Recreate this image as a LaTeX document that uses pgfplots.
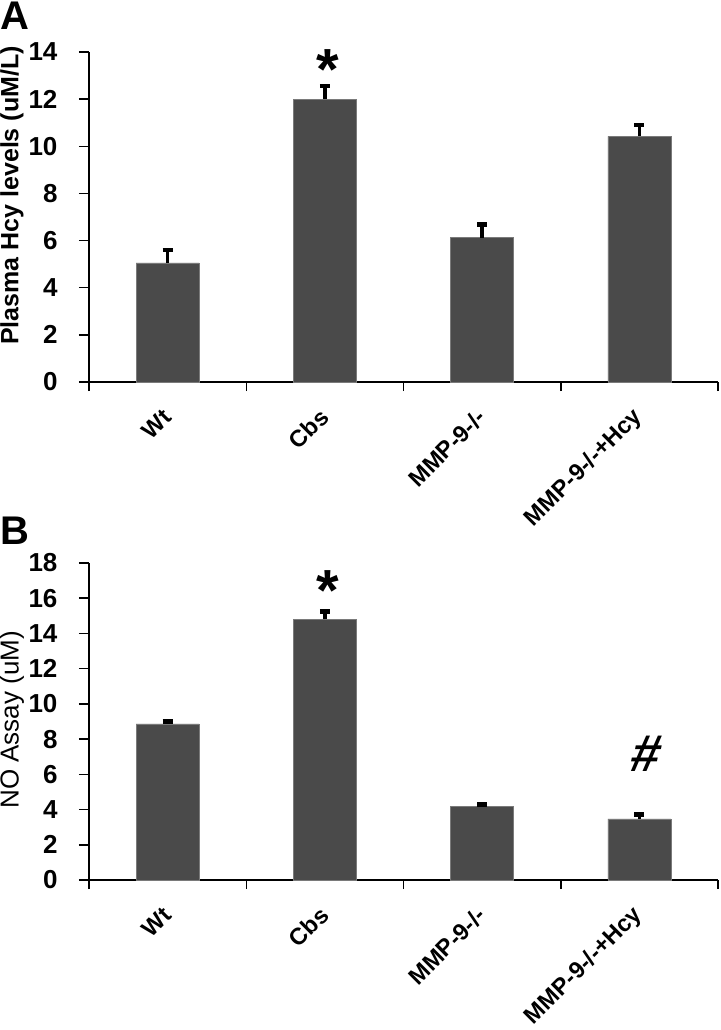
\documentclass[border=0pt]{standalone}
\usepackage{fontspec}
\setmainfont{Liberation Sans}
\usepackage{pgfplots}
\pgfplotsset{compat=1.18}
\definecolor{barc}{HTML}{4A4A4A}
\definecolor{baredge}{HTML}{7A7A7A}
\pgfplotsset{mystyle/.style={
  scale only axis, width=629pt,
  xmin=-0.5, xmax=3.5, ymin=0,
  axis x line*=bottom, axis y line*=left,
  axis line style={line width=1.5pt,-},
  ybar, bar width=0.4,
  xtick={0,1,2,3},
  xticklabels={Wt,Cbs,MMP-9-/-,MMP-9-/-+Hcy},
  major x tick style={draw=none},
  minor xtick={-0.5,0.5,1.5,2.5,3.5},
  minor x tick style={black, line width=1.5pt},
  minor tick length=9pt, major tick length=10pt,
  tick align=outside, xtick pos=bottom, ytick pos=left,
  major y tick style={black, line width=1.5pt},
  xticklabel style={font=\fontsize{23.5}{23.5}\selectfont\bfseries, yshift=-19pt, xshift=2pt, rotate=45, anchor=east},
  yticklabel style={font=\fontsize{26}{26}\selectfont\bfseries, xshift=-18pt},
  /pgf/number format/assume math mode=true,
  clip=false,
  error bars/y dir=plus, error bars/y explicit,
  error bars/error bar style={line width=3.5pt, black},
  error bars/error mark=|,
  error bars/error mark options={mark size=5pt, line width=4.5pt, black},
}}
\begin{document}
\begin{tikzpicture}[x=1pt,y=1pt]
\path[use as bounding box] (0,0) rectangle (720,-1030);
\node[anchor=north west, inner sep=0, font=\fontsize{40}{40}\selectfont\bfseries] at (0,-2) {A};
\node[anchor=north west, inner sep=0, font=\fontsize{40}{40}\selectfont\bfseries] at (0,-517) {B};

\begin{axis}[mystyle, at={(89pt,-382pt)}, anchor=south west, height=330pt,
  ymax=14, ytick={0,2,...,14},
  ylabel={Plasma Hcy levels (uM/L)},
  ylabel style={at={(axis description cs:-0.1224,0.565)}, anchor=center, font=\fontsize{25}{25}\selectfont\bfseries}]
\addplot[fill=barc, draw=baredge, line width=0.6pt] coordinates {
  (0,5.05) +- (0,0.55)
  (1,12.0) +- (0,0.56)
  (2,6.12) +- (0,0.56)
  (3,10.42) +- (0,0.48)
};
\node[anchor=north, inner sep=0, font=\fontsize{58}{58}\selectfont\bfseries] at (axis cs:1.02,14.1) {*};
\end{axis}

\begin{axis}[mystyle, at={(89pt,-880pt)}, anchor=south west, height=317pt,
  ymax=18, ytick={0,2,...,18},
  ylabel={NO Assay (uM)},
  ylabel style={at={(axis description cs:-0.1224,0.505)}, anchor=center, font=\fontsize{26}{26}\selectfont}]
\addplot[fill=barc, draw=baredge, line width=0.6pt] coordinates {
  (0,8.86) +- (0,0.14)
  (1,14.8) +- (0,0.44)
  (2,4.2) +- (0,0.08)
  (3,3.47) +- (0,0.25)
};
\node[anchor=north, inner sep=0, font=\fontsize{58}{58}\selectfont\bfseries] at (axis cs:1.02,17.6) {*};
\node[anchor=north, inner sep=0, xslant=0.22, transform shape] at (axis cs:3.07,8.2) {\fontsize{52}{52}\selectfont\bfseries \#};
\end{axis}
\end{tikzpicture}
\end{document}
